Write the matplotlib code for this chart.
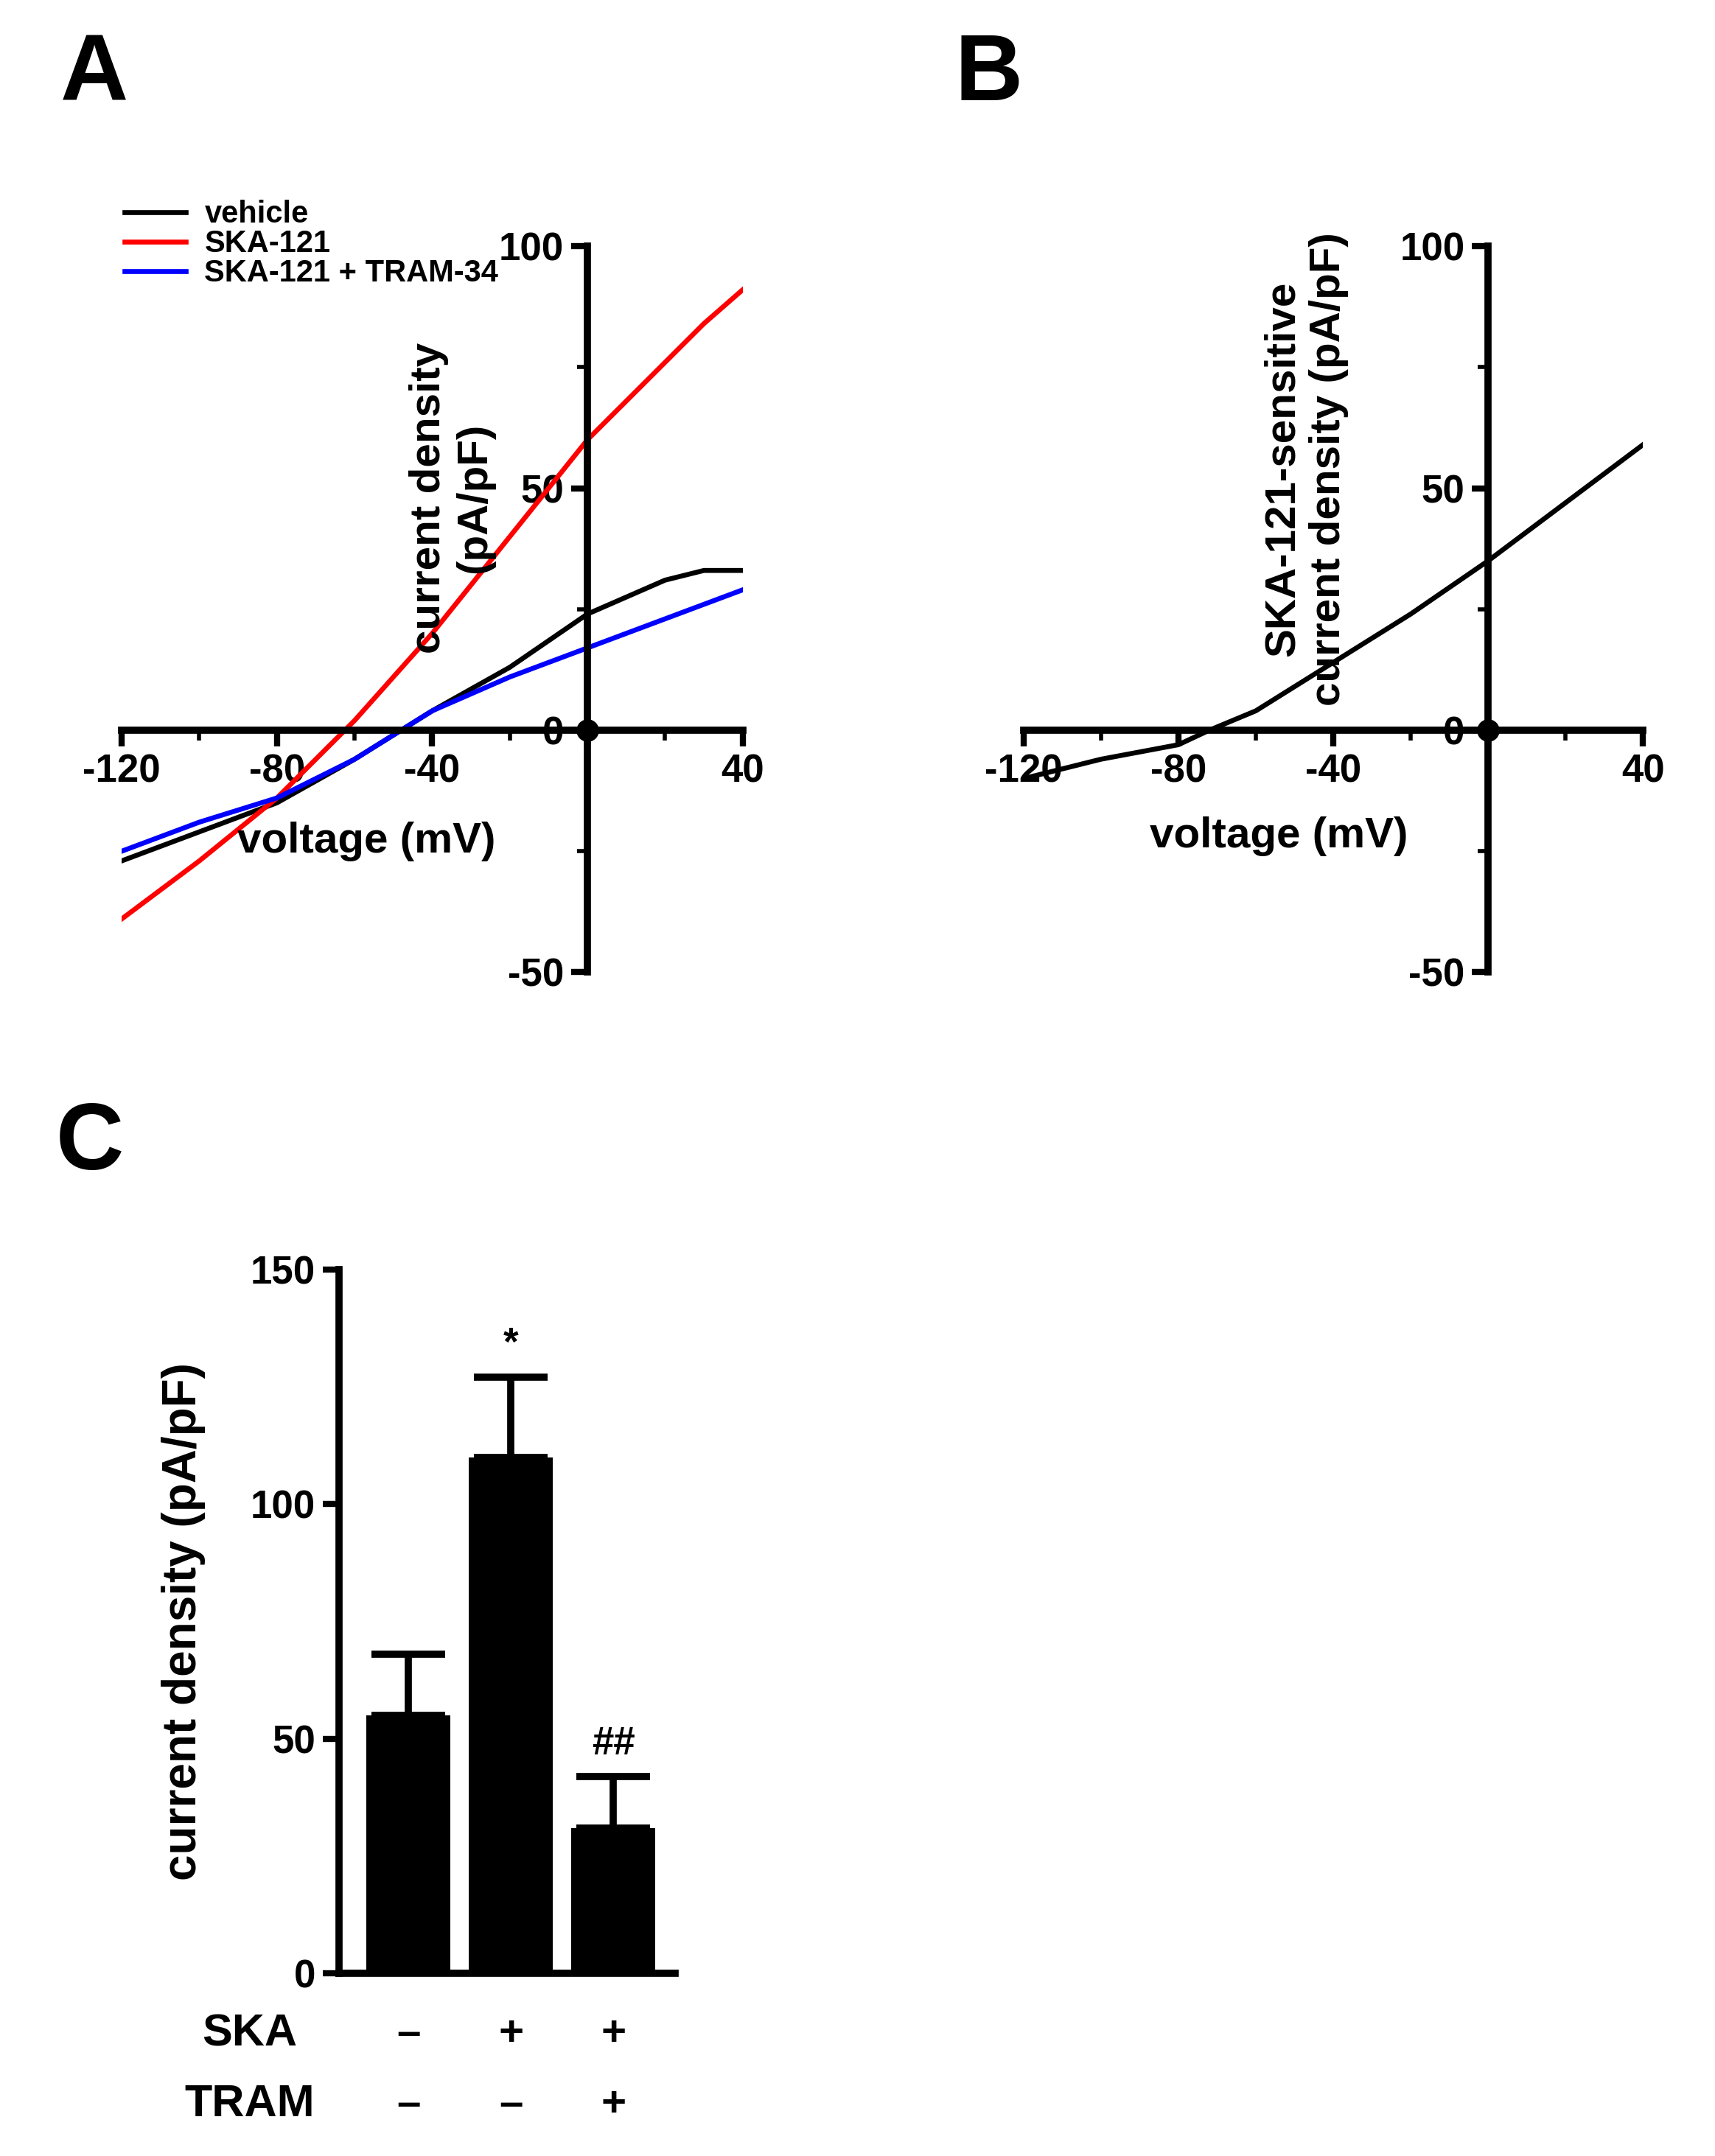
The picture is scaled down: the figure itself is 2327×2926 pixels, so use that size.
import matplotlib.pyplot as plt

plt.rcParams['font.family'] = 'Liberation Sans'
plt.rcParams['font.weight'] = 'bold'
plt.rcParams['axes.unicode_minus'] = False

# panel A
volt = [-120, -100, -80, -60, -40, -20, 0, 20, 30, 40]
vehicle = [-27, -21, -15, -6, 4, 13, 24, 31, 33, 33]
ska = [-39, -27, -14, 2, 20, 40, 60, 76, 84, 91]
ska_tram = [-25, -19, -14, -6, 4, 11, 17, 23, 26, 29]
# panel B
volt_b = [-120, -100, -80, -72, -60, -40, -20, 0, 20, 40]
ska_sens = [-10, -6, -3, 0, 4, 14, 24, 35, 47, 59]
# panel C
bar_means = [55, 110, 31]
bar_sem = [13, 17, 11]
bar_marks = ['', '*', '##']
ska_row = ['–', '+', '+']
tram_row = ['–', '–', '+']

W, H = 1240, 1559
fig = plt.figure(figsize=(11.635, 14.63), dpi=200)
FS = 21
TS = 19

def ax_px(x0, y0, x1, y1):
    return fig.add_axes([x0 / W, 1 - y1 / H, (x1 - x0) / W, (y1 - y0) / H])

def iv_axes(ax):
    ax.set_xlim(-120, 40)
    ax.set_ylim(-50, 100)
    for s in ['top', 'right']:
        ax.spines[s].set_visible(False)
    ax.spines['left'].set_position(('data', 0))
    ax.spines['bottom'].set_position(('data', 0))
    for s in ['left', 'bottom']:
        ax.spines[s].set_linewidth(3.5)
    ax.set_xticks([-120, -80, -40, 0, 40])
    ax.set_xticklabels(['-120', '-80', '-40', '', '40'])
    ax.set_xticks(range(-120, 41, 20), minor=True)
    ax.set_yticks([-50, 0, 50, 100])
    ax.set_yticks(range(-50, 101, 25), minor=True)
    ax.tick_params(width=3, length=8, labelsize=TS)
    ax.tick_params(which='minor', width=2, length=5)
    ax.plot([0], [0], 'o', color='black', ms=11, mew=0, clip_on=False)
    for t in ax.get_xticklabels() + ax.get_yticklabels():
        t.set_fontweight('bold')

axA = ax_px(88, 178, 537, 703)
axA.plot(volt, vehicle, color='black', lw=2.4, label='vehicle')
axA.plot(volt, ska, color='#ff0000', lw=2.4, label='SKA-121')
axA.plot(volt, ska_tram, color='#0000ff', lw=2.4, label='SKA-121 + TRAM-34')
iv_axes(axA)
axA.legend(loc='upper left', bbox_to_anchor=(-0.02, 1.085), frameon=False,
           fontsize=15, handlelength=2.0, handletextpad=0.6, labelspacing=0.0, borderpad=0)
axA.text(-35, 48, 'current density\n(pA/pF)', rotation=90, ha='center', va='center',
         fontsize=FS, fontweight='bold')
axA.text(-57, -23, 'voltage (mV)', ha='center', va='center', fontsize=FS, fontweight='bold')

axB = ax_px(740, 178, 1188, 703)
axB.plot(volt_b, ska_sens, color='black', lw=2.4)
iv_axes(axB)
axB.text(-47, 54, 'SKA-121-sensitive\ncurrent density (pA/pF)', rotation=90,
         ha='center', va='center', fontsize=FS, fontweight='bold')
axB.text(-54, -22, 'voltage (mV)', ha='center', va='center', fontsize=FS, fontweight='bold')

axC = ax_px(245, 918, 488, 1427)
pos = [0, 1, 2]
axC.bar(pos, bar_means, width=0.82, color='black')
axC.errorbar(pos, bar_means, yerr=[[0, 0, 0], bar_sem], fmt='none', ecolor='black',
             elinewidth=3.5, capsize=18, capthick=3.5)
for p, m, s, t in zip(pos, bar_means, bar_sem, bar_marks):
    axC.text(p, m + s + 3, t, ha='center', va='bottom', fontsize=TS)
axC.set_xlim(-0.68, 2.6)
axC.set_ylim(0, 150)
axC.set_yticks([0, 50, 100, 150])
axC.set_xticks([])
for s in ['top', 'right']:
    axC.spines[s].set_visible(False)
for s in ['left', 'bottom']:
    axC.spines[s].set_linewidth(3.5)
axC.tick_params(width=3, length=8, labelsize=TS)
for t in axC.get_yticklabels():
    t.set_fontweight('bold')
axC.set_ylabel('current density (pA/pF)', fontsize=FS + 2, fontweight='bold', labelpad=22)
for p, a, b in zip(pos, ska_row, tram_row):
    axC.text(p, -13, a, ha='center', va='center', fontsize=FS, fontweight='bold')
    axC.text(p, -28, b, ha='center', va='center', fontsize=FS, fontweight='bold')
axC.text(-1.55, -13, 'SKA', ha='center', va='center', fontsize=FS + 1, fontweight='bold')
axC.text(-1.55, -28, 'TRAM', ha='center', va='center', fontsize=FS + 1, fontweight='bold')

for lab, x, y in [('A', 68, 55), ('B', 715, 55), ('C', 65, 828)]:
    fig.text(x / W, 1 - y / H, lab, ha='center', va='center', fontsize=46, fontweight='bold')

fig.savefig('out.png', dpi=200)
